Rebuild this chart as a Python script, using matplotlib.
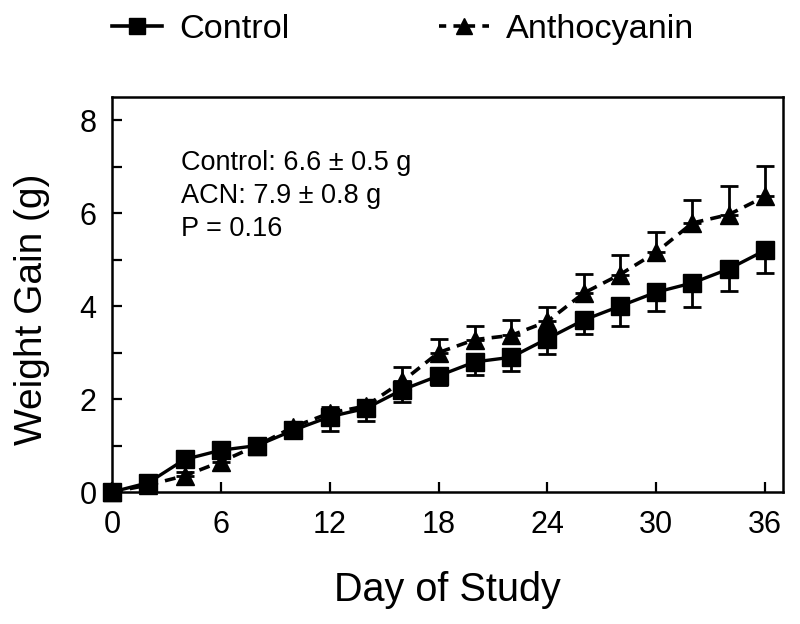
import numpy as np
import matplotlib
matplotlib.use("Agg")
import matplotlib.pyplot as plt
from matplotlib.lines import Line2D

plt.rcParams['font.family'] = ['Liberation Sans', 'DejaVu Sans']

# data
days = [0, 2, 4, 6, 8, 10, 12, 14, 16, 18, 20, 22, 24, 26, 28, 30, 32, 34, 36]
control = [0.0, 0.2, 0.7, 0.9, 1.0, 1.33, 1.62, 1.8, 2.2, 2.5, 2.8, 2.9, 3.3, 3.7, 4.0, 4.3, 4.5, 4.8, 5.2]
control_err = [0.0, 0.05, 0.08, 0.1, 0.1, 0.12, 0.3, 0.28, 0.27, 0.2, 0.29, 0.3, 0.32, 0.3, 0.42, 0.4, 0.51, 0.47, 0.48]
acn = [0.0, 0.15, 0.35, 0.65, 1.0, 1.4, 1.7, 1.85, 2.38, 3.0, 3.28, 3.37, 3.67, 4.28, 4.68, 5.16, 5.79, 5.97, 6.36]
acn_err = [0.0, 0.05, 0.08, 0.08, 0.1, 0.1, 0.12, 0.12, 0.32, 0.3, 0.3, 0.34, 0.31, 0.42, 0.41, 0.43, 0.5, 0.62, 0.65]

summary = ["Control: 6.6 \u00b1 0.5 g", "ACN: 7.9 \u00b1 0.8 g", "P = 0.16"]
x_ticks = [0, 6, 12, 18, 24, 30, 36]
y_ticks = [0, 2, 4, 6, 8]

fig = plt.figure(figsize=(8, 6.24), dpi=100)
ax = fig.add_axes([0.14, 0.2115, 0.839, 0.633])

zeros = np.zeros(len(days))

# error bars first (one-sided), then lines + markers on top
ax.errorbar(days, acn, yerr=[zeros, acn_err], fmt='none', ecolor='black',
            elinewidth=2, capsize=6.5, capthick=2, zorder=2)
ax.errorbar(days, control, yerr=[control_err, zeros], fmt='none', ecolor='black',
            elinewidth=2, capsize=6.5, capthick=2, zorder=2)

ax.plot(days, acn, color='black', linestyle=(0, (3, 2)), linewidth=2.6,
        marker='^', markersize=13, zorder=3, clip_on=False)
ax.plot(days, control, color='black', linestyle='-', linewidth=2.4,
        marker='s', markersize=13, zorder=4, clip_on=False)

ax.set_xlim(0, 37)
ax.set_ylim(0, 8.5)
ax.set_xticks(x_ticks)
ax.set_yticks(y_ticks)
ax.set_yticks([1, 3, 5, 7], minor=True)
ax.tick_params(axis='both', which='both', direction='in', length=7, width=1.6,
               labelsize=22)
ax.tick_params(axis='x', pad=13)
ax.tick_params(axis='y', pad=11)

for s in ax.spines.values():
    s.set_linewidth(1.8)

ax.set_xlabel("Day of Study", fontsize=28.5)
ax.set_ylabel("Weight Gain (g)", fontsize=28)
ax.xaxis.set_label_coords(0.5, -0.2)
ax.yaxis.set_label_coords(-0.092, 0.463)

ax.text(0.103, 0.866, "\n".join(summary), transform=ax.transAxes, fontsize=19.5,
        va='top', ha='left', linespacing=1.34)

handles = [
    Line2D([], [], color='black', linestyle='-', linewidth=2.6, marker='s', markersize=11),
    Line2D([], [], color='black', linestyle=(0, (2, 2)), linewidth=2.6, marker='^', markersize=11),
]
fig.legend(handles, ["Control", "Anthocyanin"], loc='center', bbox_to_anchor=(0.504, 0.952),
           ncol=2, frameon=False, fontsize=24.7, handlelength=1.45, handletextpad=0.5,
           columnspacing=4.37)

fig.savefig("out.png", dpi=100)
